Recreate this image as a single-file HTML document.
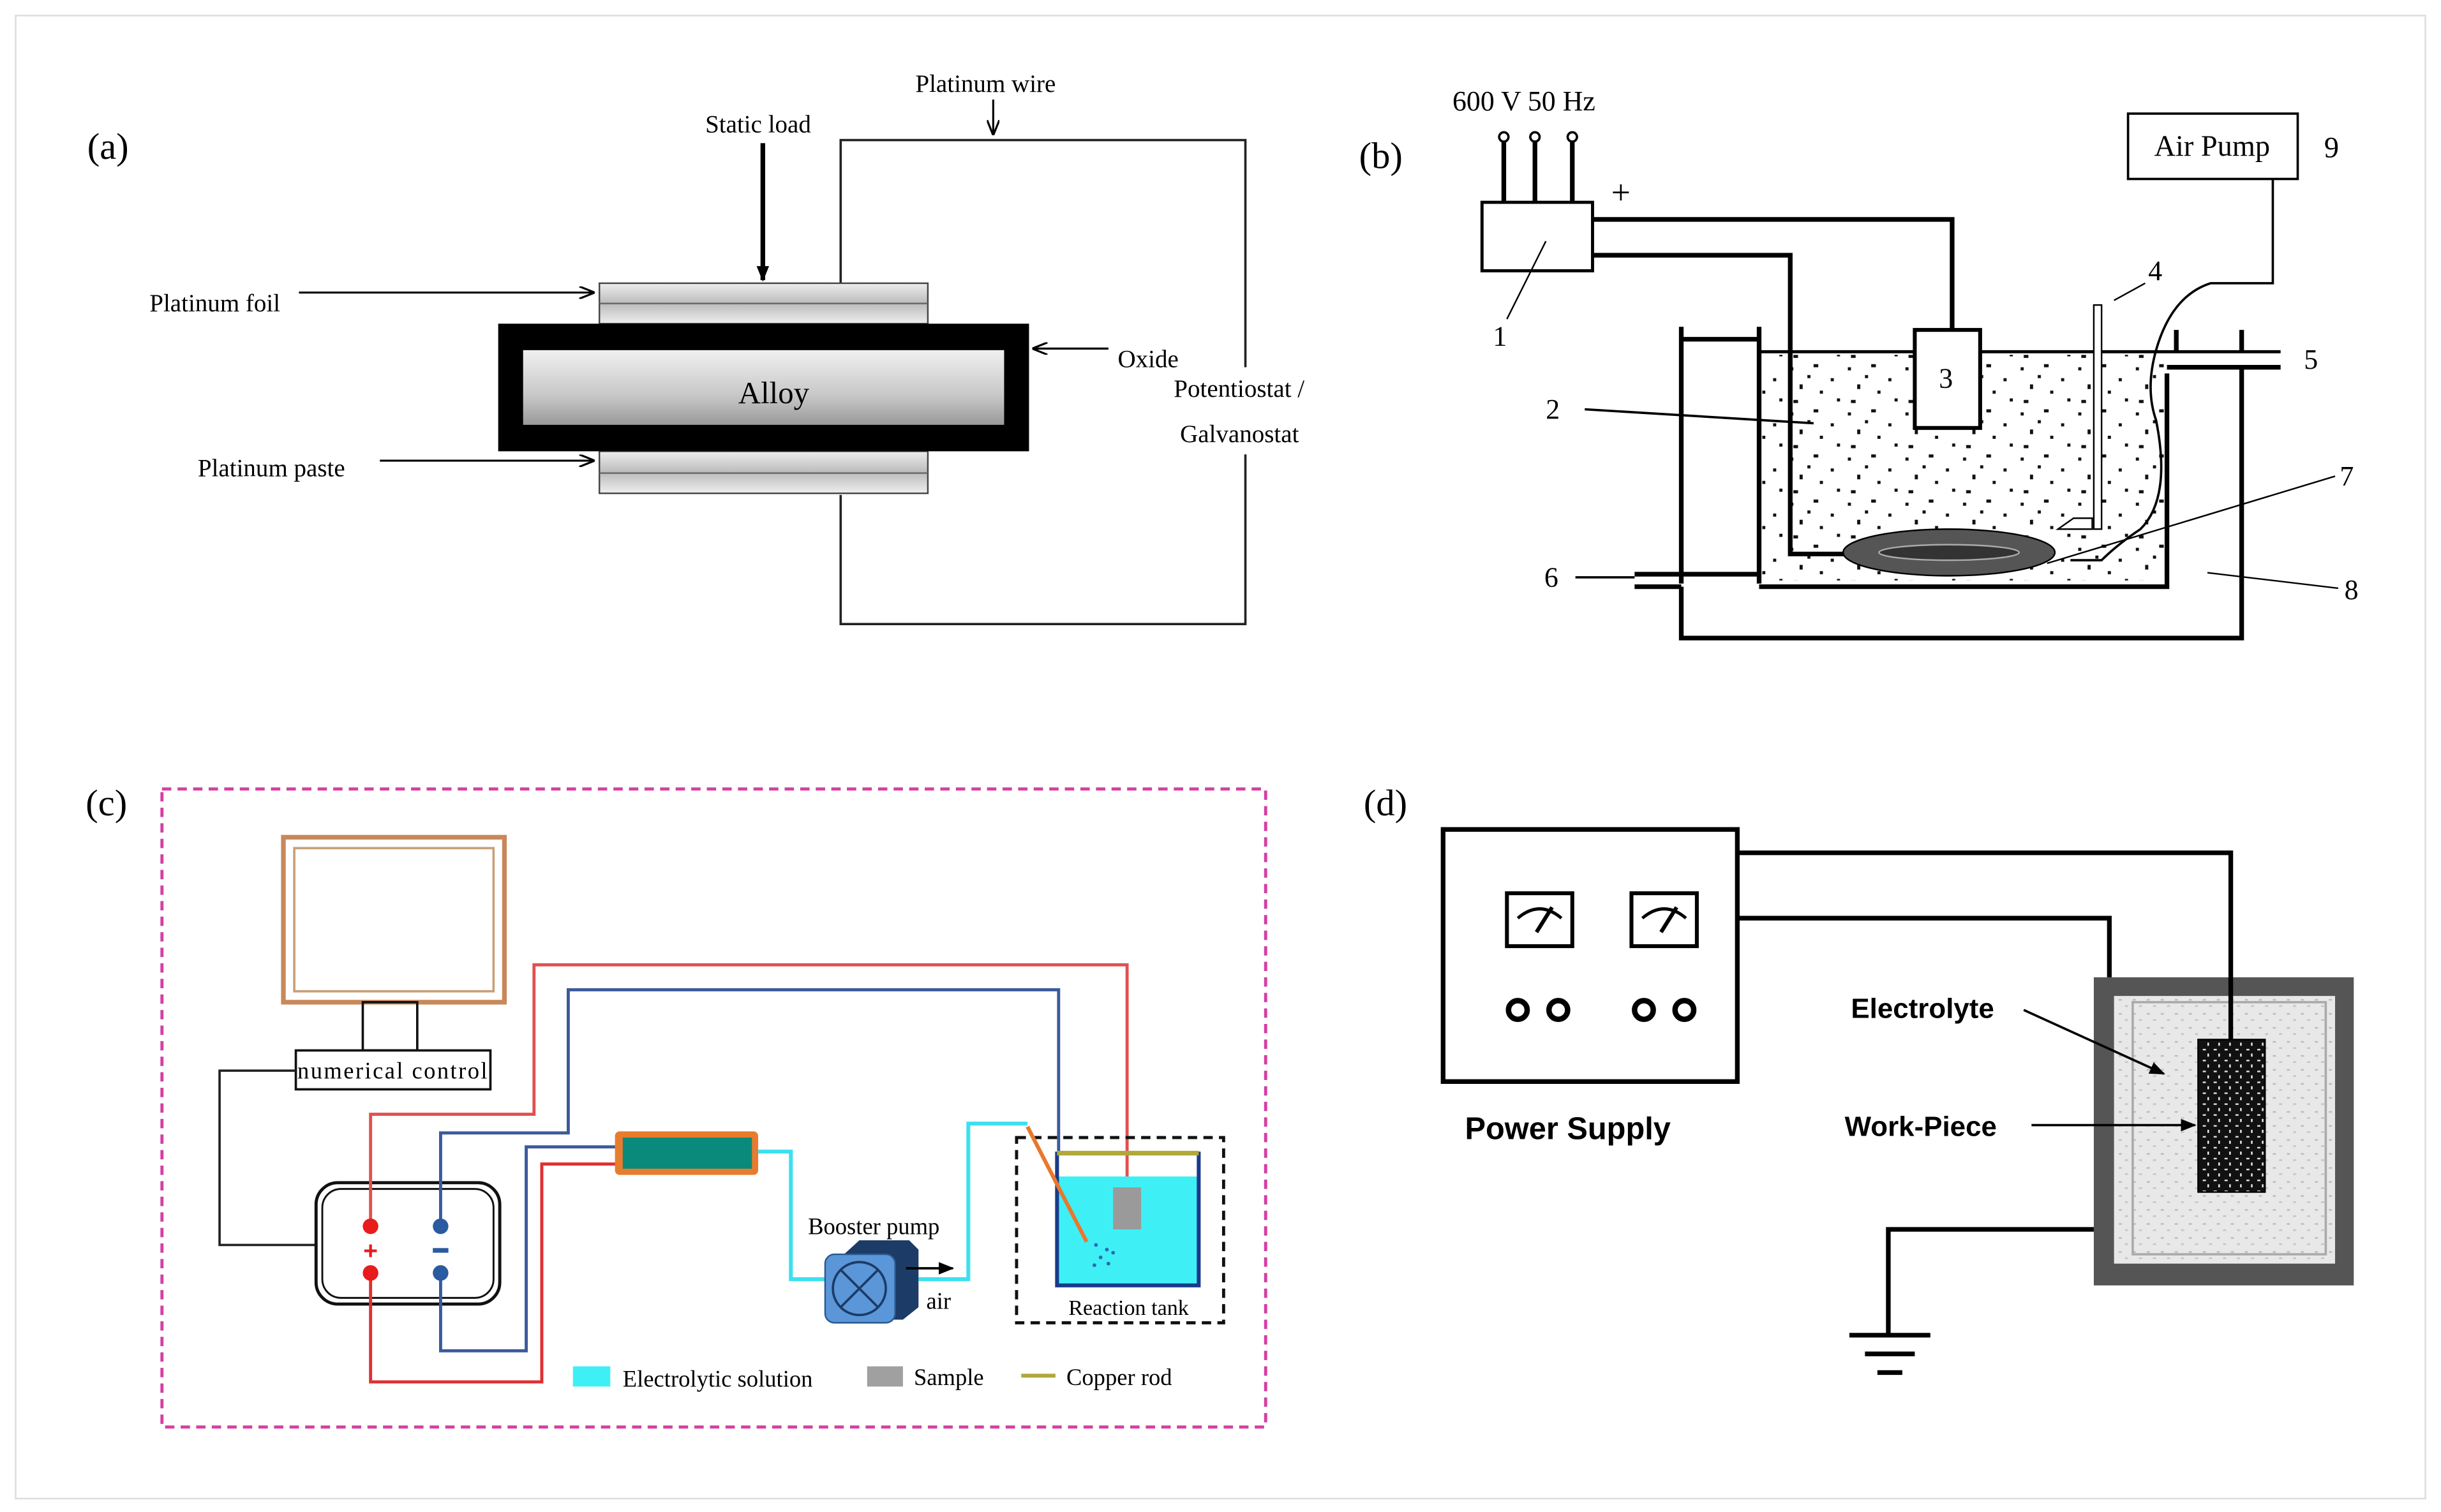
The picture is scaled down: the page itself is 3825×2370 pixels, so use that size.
<!DOCTYPE html>
<html><head><meta charset="utf-8"><style>
html,body{margin:0;padding:0;background:#fff}
svg{display:block}
.s{font-family:"Liberation Serif",serif}
.a{font-family:"Liberation Sans",sans-serif;font-weight:bold}
</style></head><body>
<svg width="3825" height="2370" viewBox="0 0 1568 971.6" xmlns="http://www.w3.org/2000/svg">
<defs>
<linearGradient id="g1" x1="0" y1="0" x2="0" y2="1"><stop offset="0" stop-color="#eee"/><stop offset=".5" stop-color="#bbb"/><stop offset="1" stop-color="#eee"/></linearGradient>
<linearGradient id="g2" x1="0" y1="0" x2="0" y2="1"><stop offset="0" stop-color="#f0f0f0"/><stop offset=".6" stop-color="#c8c8c8"/><stop offset="1" stop-color="#9a9a9a"/></linearGradient>
<pattern id="dots" width="37" height="29" patternUnits="userSpaceOnUse">
<rect x="3" y="4" width="2" height="2" fill="#111"/><rect x="18" y="2" width="3" height="2" fill="#111"/><rect x="29" y="11" width="2" height="2" fill="#111"/><rect x="9" y="15" width="2" height="3" fill="#111"/><rect x="22" y="19" width="2" height="2" fill="#111"/><rect x="33" y="24" width="2" height="2" fill="#111"/><rect x="5" y="25" width="3" height="2" fill="#111"/><rect x="14" y="9" width="2" height="2" fill="#111"/>
</pattern>
<pattern id="mot" width="9" height="9" patternUnits="userSpaceOnUse"><rect width="9" height="9" fill="#e8e8e8"/><rect x="2" y="3" width="2" height="1" fill="#bbb"/><rect x="6" y="7" width="2" height="1" fill="#c4c4c4"/></pattern>
<pattern id="spk" width="7" height="7" patternUnits="userSpaceOnUse"><rect width="7" height="7" fill="#111"/><rect x="1" y="2" width="2" height="1" fill="#ddd"/><rect x="4" y="5" width="1" height="2" fill="#eee"/></pattern>
<marker id="ar" markerWidth="10" markerHeight="8" refX="9" refY="4" orient="auto" markerUnits="userSpaceOnUse"><path d="M0,0 L10,4 L0,8" fill="none" stroke="#000" stroke-width="1.3"/></marker>
<marker id="af" markerWidth="10" markerHeight="8" refX="9" refY="4" orient="auto" markerUnits="userSpaceOnUse"><path d="M0,0 L10,4 L0,8 z" fill="#000"/></marker>
</defs>
<rect x="0" y="0" width="1568" height="971.6" fill="#fff"/>
<rect x="10" y="10" width="1548" height="953" fill="none" stroke="#ddd" stroke-width="1"/>

<!-- (a) -->
<text x="56" y="102" class="s" font-size="24">(a)</text>
<g fill="none" stroke="#222" stroke-width="1.5">
<path d="M540,182 V90 H800 V236 M800,292 V401 H540 V318"/>
</g>
<text x="588" y="59" class="s" font-size="16">Platinum wire</text>
<line x1="638" y1="64" x2="638" y2="86" stroke="#000" stroke-width="1.3" marker-end="url(#ar)"/>
<text x="453" y="85" class="s" font-size="16">Static load</text>
<line x1="490" y1="92" x2="490" y2="180" stroke="#000" stroke-width="3" marker-end="url(#af)"/>
<rect x="385" y="182" width="211" height="26" fill="url(#g1)" stroke="#444"/>
<line x1="385" y1="195" x2="596" y2="195" stroke="#666"/>
<rect x="385" y="290" width="211" height="27" fill="url(#g1)" stroke="#444"/>
<line x1="385" y1="304" x2="596" y2="304" stroke="#666"/>
<rect x="320" y="208" width="341" height="82" fill="#000"/>
<rect x="336" y="225" width="309" height="48" fill="url(#g2)"/>
<text x="497" y="259" class="s" font-size="20" text-anchor="middle">Alloy</text>
<text x="96" y="200" class="s" font-size="16">Platinum foil</text>
<line x1="192" y1="188" x2="381" y2="188" stroke="#000" stroke-width="1.3" marker-end="url(#ar)"/>
<text x="127" y="306" class="s" font-size="16">Platinum paste</text>
<line x1="244" y1="296" x2="381" y2="296" stroke="#000" stroke-width="1.3" marker-end="url(#ar)"/>
<line x1="712" y1="224" x2="664" y2="224" stroke="#000" stroke-width="1.3" marker-end="url(#ar)"/>
<text x="718" y="236" class="s" font-size="16">Oxide</text>
<text x="754" y="255" class="s" font-size="16">Potentiostat /</text>
<text x="758" y="284" class="s" font-size="16">Galvanostat</text>

<!-- (b) -->
<text x="873" y="108" class="s" font-size="24">(b)</text>
<text x="933" y="71" class="s" font-size="18">600 V 50 Hz</text>
<g stroke="#000" stroke-width="3"><line x1="966" y1="91" x2="966" y2="130"/><line x1="986" y1="91" x2="986" y2="130"/><line x1="1010" y1="91" x2="1010" y2="130"/></g>
<g fill="#fff" stroke="#000" stroke-width="1.5"><circle cx="966" cy="88" r="3"/><circle cx="986" cy="88" r="3"/><circle cx="1010" cy="88" r="3"/></g>
<rect x="952" y="130" width="71" height="44" fill="#fff" stroke="#000" stroke-width="2"/>
<text x="1035" y="131" class="s" font-size="22">+</text>
<rect x="1132" y="228" width="258" height="145" fill="url(#dots)"/>
<g fill="none" stroke="#000" stroke-width="3">
<path d="M1023,141 H1254 V212"/>
<path d="M1023,164 H1150 V356 H1186"/>
<path d="M1080,210 V375 M1130,210 V375 M1080,218 H1130"/>
<path d="M1080,377 V410 H1440 V236"/>
<path d="M1392,240 V377 H1130"/>
<path d="M1050,369 H1130 M1050,377 H1080"/>
<path d="M1398,212 V226 M1440,212 V226"/>
<path d="M1392,236 H1465"/>
</g>
<line x1="1130" y1="226" x2="1465" y2="226" stroke="#000" stroke-width="2"/>
<rect x="1230" y="212" width="42" height="63" fill="#fff" stroke="#000" stroke-width="2.5"/>
<text x="1250" y="249" class="s" font-size="18" text-anchor="middle">3</text>
<ellipse cx="1252" cy="355" rx="68" ry="15" fill="#555" stroke="#000"/>
<ellipse cx="1252" cy="355" rx="45" ry="5" fill="#333" stroke="#aaa"/>
<rect x="1345" y="196" width="5" height="144" fill="#fff" stroke="#000"/>
<path d="M1322,340 h22 v-7 h-12 z" fill="#fff" stroke="#000"/>
<path d="M1460,115 V182 H1420 Q1395,190 1385,225 Q1378,250 1385,270 Q1395,320 1375,340 Q1360,350 1350,360 H1330" fill="none" stroke="#000" stroke-width="1.5"/>
<rect x="1367" y="73" width="109" height="42" fill="#fff" stroke="#000" stroke-width="1.5"/>
<text x="1421" y="100" class="s" font-size="19" text-anchor="middle">Air Pump</text>
<text x="1493" y="101" class="s" font-size="19">9</text>
<text x="959" y="222" class="s" font-size="18">1</text>
<line x1="968" y1="205" x2="993" y2="155" stroke="#000"/>
<text x="993" y="269" class="s" font-size="18">2</text>
<line x1="1018" y1="263" x2="1165" y2="272" stroke="#000" stroke-width="1.5"/>
<text x="1380" y="180" class="s" font-size="18">4</text>
<line x1="1358" y1="193" x2="1378" y2="182" stroke="#000"/>
<text x="1480" y="237" class="s" font-size="18">5</text>
<text x="992" y="377" class="s" font-size="18">6</text>
<line x1="1012" y1="371" x2="1050" y2="371" stroke="#000" stroke-width="1.5"/>
<text x="1503" y="312" class="s" font-size="18">7</text>
<line x1="1500" y1="306" x2="1315" y2="362" stroke="#000"/>
<text x="1506" y="385" class="s" font-size="18">8</text>
<line x1="1418" y1="368" x2="1502" y2="378" stroke="#000"/>

<!-- (c) -->
<text x="55" y="524" class="s" font-size="24">(c)</text>
<rect x="104" y="507" width="709" height="410" fill="none" stroke="#d43fa4" stroke-width="2" stroke-dasharray="6,4"/>
<rect x="182" y="538" width="142" height="106" fill="none" stroke="#c8885a" stroke-width="3"/>
<rect x="189" y="545" width="128" height="92" fill="none" stroke="#c8a07a" stroke-width="1.5"/>
<rect x="233" y="644" width="35" height="31" fill="none" stroke="#111" stroke-width="1.5"/>
<rect x="190" y="675" width="125" height="25" fill="#fff" stroke="#111" stroke-width="1.5"/>
<text x="252" y="693" class="s" font-size="15" text-anchor="middle" textLength="122">numerical control</text>
<path d="M190,688 H141 V800 H205" fill="none" stroke="#222" stroke-width="1.5"/>
<rect x="203" y="760" width="118" height="78" rx="14" fill="#fff" stroke="#111" stroke-width="2"/>
<rect x="207" y="764" width="110" height="70" rx="12" fill="none" stroke="#111" stroke-width="1.2"/>
<g fill="none" stroke-width="2">
<path d="M238,788 V716 H343 V620 H724 V790" stroke="#e05050"/>
<path d="M238,818 V888 H348 V748 H398" stroke="#e03030"/>
<path d="M283,788 V728 H365 V636 H680 V740" stroke="#3a5a9a"/>
<path d="M283,818 V868 H338 V737 H398" stroke="#3a5a9a"/>
<path d="M487,740 H508 V822 H535 M590,822 H622 V722 H660" stroke="#3ee0f0" stroke-width="2.5"/>
</g>
<circle cx="238" cy="788" r="5" fill="#e81c1c"/><circle cx="238" cy="818" r="5" fill="#e81c1c"/>
<text x="238" y="809" font-family="Liberation Sans" font-weight="bold" font-size="16" fill="#e81c1c" text-anchor="middle">+</text>
<circle cx="283" cy="788" r="5" fill="#2a5aa0"/><circle cx="283" cy="818" r="5" fill="#2a5aa0"/>
<rect x="278" y="802" width="10" height="3" fill="#2a5aa0"/>
<rect x="395" y="727" width="92" height="28" rx="3" fill="#e87c2e"/>
<rect x="400" y="731" width="83" height="20" fill="#0a8a7a"/>
<path d="M540,808 L552,797 H584 L590,803 V840 L580,848 H540 Z" fill="#1c3b66"/>
<rect x="530" y="806" width="45" height="44" rx="6" fill="#5a96d8" stroke="#2a5a90"/>
<circle cx="552" cy="828" r="17" fill="none" stroke="#1c3b66" stroke-width="1.5"/>
<path d="M540,816 L564,840 M564,816 L540,840" stroke="#1c3b66" stroke-width="1.5"/>
<text x="519" y="793" class="s" font-size="15">Booster pump</text>
<line x1="582" y1="815" x2="612" y2="815" stroke="#000" stroke-width="1.5" marker-end="url(#af)"/>
<text x="595" y="841" class="s" font-size="15">air</text>
<rect x="653" y="731" width="133" height="119" fill="none" stroke="#111" stroke-width="2" stroke-dasharray="6,4"/>
<rect x="679" y="756" width="91" height="69" fill="#3ef0f5"/>
<path d="M679,740 V826 H770 V740" fill="none" stroke="#1a3a8a" stroke-width="2.5"/>
<line x1="679" y1="741" x2="770" y2="741" stroke="#b0a838" stroke-width="3"/>
<rect x="715" y="763" width="18" height="27" fill="#9a9a9a"/>
<line x1="660" y1="724" x2="698" y2="798" stroke="#e8782e" stroke-width="2.5"/>
<g fill="#2a6ab0"><circle cx="704" cy="800" r="1.2"/><circle cx="711" cy="803" r="1.2"/><circle cx="707" cy="808" r="1.2"/><circle cx="715" cy="805" r="1.2"/><circle cx="703" cy="813" r="1.2"/><circle cx="712" cy="812" r="1.2"/></g>
<text x="725" y="845" class="s" font-size="14" text-anchor="middle">Reaction tank</text>
<rect x="368" y="878" width="24" height="13" fill="#3ef0f5"/>
<text x="400" y="891" class="s" font-size="15">Electrolytic solution</text>
<rect x="557" y="878" width="23" height="13" fill="#a0a0a0"/>
<text x="587" y="890" class="s" font-size="15">Sample</text>
<line x1="656" y1="884" x2="678" y2="884" stroke="#b0a838" stroke-width="2.5"/>
<text x="685" y="890" class="s" font-size="15">Copper rod</text>

<!-- (d) -->
<text x="876" y="524" class="s" font-size="24">(d)</text>
<rect x="927" y="533" width="189" height="162" fill="#fff" stroke="#000" stroke-width="3"/>
<g fill="#fff" stroke="#000" stroke-width="2.5"><rect x="968" y="574" width="42" height="34"/><rect x="1048" y="574" width="42" height="34"/></g>
<g stroke="#000" stroke-width="2" fill="none"><path d="M975,590 Q989,578 1003,590"/><path d="M1055,590 Q1069,578 1083,590"/></g>
<g stroke="#000" stroke-width="2.5"><line x1="987" y1="599" x2="997" y2="583"/><line x1="1067" y1="599" x2="1077" y2="583"/></g>
<g fill="none" stroke="#000" stroke-width="3.5"><circle cx="975" cy="649" r="6"/><circle cx="1001" cy="649" r="6"/><circle cx="1056" cy="649" r="6"/><circle cx="1082" cy="649" r="6"/></g>
<text x="941" y="732" class="a" font-size="20">Power Supply</text>
<rect x="1345" y="628" width="167" height="198" fill="#555"/>
<rect x="1358" y="640" width="142" height="172" fill="url(#mot)"/>
<rect x="1370" y="644" width="124" height="162" fill="none" stroke="#aaa" stroke-width="1.5"/>
<g fill="none" stroke="#000" stroke-width="3">
<path d="M1116,548 H1433 V668"/>
<path d="M1116,590 H1355 V628"/>
<path d="M1345,790 H1213 V858"/>
<path d="M1188,858 H1240 M1198,870 H1230 M1206,882 H1222"/>
</g>
<rect x="1412" y="668" width="43" height="98" fill="url(#spk)" stroke="#000"/>
<text x="1189" y="654" class="a" font-size="18">Electrolyte</text>
<line x1="1300" y1="649" x2="1390" y2="690" stroke="#000" stroke-width="1.5" marker-end="url(#af)"/>
<text x="1185" y="730" class="a" font-size="18">Work-Piece</text>
<line x1="1305" y1="723" x2="1410" y2="723" stroke="#000" stroke-width="1.5" marker-end="url(#af)"/>
</svg>
</body></html>
